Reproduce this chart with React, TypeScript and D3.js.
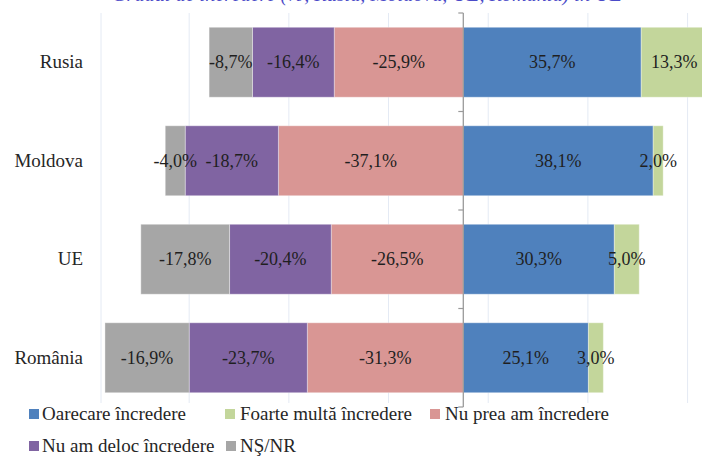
import React from "react";
import * as d3 from "d3";

const categories = ["Rusia", "Moldova", "UE", "România"];
const seriesNames = [
  "Oarecare încredere",
  "Foarte multă încredere",
  "Nu prea am încredere",
  "Nu am deloc încredere",
  "NŞ/NR",
];
const oarecare = [35.7, 38.1, 30.3, 25.1];
const foarteMulta = [13.3, 2.0, 5.0, 3.0];
const nuPrea = [-25.9, -37.1, -26.5, -31.3];
const nuDeloc = [-16.4, -18.7, -20.4, -23.7];
const nsnr = [-8.7, -4.0, -17.8, -16.9];
const gridValues = [-55, -35, -15, 5, 25, 45];
const titleText = "Gradul de încredere (%, Rusia, Moldova, UE, România) în UE";

const colors: Record<string, string> = {
  "Oarecare încredere": "#4f81bd",
  "Foarte multă încredere": "#c3d69b",
  "Nu prea am încredere": "#d99694",
  "Nu am deloc încredere": "#8064a2",
  "NŞ/NR": "#a6a6a6",
};

const W = 702;
const H = 459;
const FONT = "Liberation Serif, DejaVu Serif, serif";

export default function App() {
  const x = d3.scaleLinear().domain([-75, 50]).range([89.5, 712.5]);
  const y = d3
    .scaleBand<string>()
    .domain(categories)
    .range([13, 407])
    .paddingInner(0.29)
    .paddingOuter(0.145);

  type Seg = { cat: string; name: string; x0: number; x1: number; v: number };
  const segs: Seg[] = [];
  categories.forEach((cat, i) => {
    let p = 0;
    [
      ["Oarecare încredere", oarecare[i]],
      ["Foarte multă încredere", foarteMulta[i]],
    ].forEach(([n, v]) => {
      segs.push({ cat, name: n as string, x0: p, x1: p + (v as number), v: v as number });
      p += v as number;
    });
    let q = 0;
    [
      ["Nu prea am încredere", nuPrea[i]],
      ["Nu am deloc încredere", nuDeloc[i]],
      ["NŞ/NR", nsnr[i]],
    ].forEach(([n, v]) => {
      segs.push({ cat, name: n as string, x0: q + (v as number), x1: q, v: v as number });
      q += v as number;
    });
  });

  const fmt = (v: number) => v.toFixed(1).replace(".", ",") + "%";
  const step = y.step();
  const bandTop = 13;
  const tickYs = d3.range(categories.length + 1).map((k) => bandTop + k * step);

  const legendRows = [
    { name: seriesNames[0], sx: 29, tx: 42, y: 420 },
    { name: seriesNames[1], sx: 225, tx: 240, y: 420 },
    { name: seriesNames[2], sx: 430, tx: 445, y: 420 },
    { name: seriesNames[3], sx: 29, tx: 42, y: 452 },
    { name: seriesNames[4], sx: 226, tx: 240, y: 452 },
  ];

  return (
    <svg
      width={W}
      height={H}
      style={{ position: "fixed", left: 0, top: 0, background: "#fff", fontFamily: FONT }}
    >
      <rect width={W} height={H} fill="#fff" />
      <text
        x={367}
        y={1}
        textAnchor="middle"
        fontStyle="italic"
        fontSize={22}
        fill="#4b4bc8"
        textLength={510}
        lengthAdjust="spacingAndGlyphs"
        style={{ fontFamily: FONT }}
      >
        {titleText}
      </text>
      <line x1={101} x2={101} y1={13} y2={403} stroke="#e4eaf4" strokeWidth={1} />
      {gridValues.map((g) => (
        <line key={g} x1={x(g)} x2={x(g)} y1={13} y2={403} stroke="#e4eaf4" strokeWidth={1} />
      ))}
      {segs.map((s, i) => (
        <rect
          key={i}
          x={x(s.x0)}
          y={y(s.cat)!}
          width={x(s.x1) - x(s.x0)}
          height={y.bandwidth()}
          fill={colors[s.name]}
          stroke="#ffffff"
          strokeOpacity={0.35}
          strokeWidth={1}
        />
      ))}
      <line x1={x(0)} x2={x(0)} y1={tickYs[0]} y2={tickYs[tickYs.length - 1]} stroke="#9a9a9a" strokeWidth={1.3} />
      {tickYs.map((t, i) => (
        <line key={i} x1={x(0) - 5} x2={x(0)} y1={t} y2={t} stroke="#9a9a9a" strokeWidth={1.2} />
      ))}
      {segs.map((s, i) => (
        <text
          key={"l" + i}
          x={(x(s.x0) + x(s.x1)) / 2}
          y={y(s.cat)! + y.bandwidth() / 2 + 6}
          textAnchor="middle"
          fontSize={18}
          fill="#1f1f1f"
          style={{ fontFamily: FONT }}
        >
          {fmt(s.v)}
        </text>
      ))}
      {categories.map((c) => (
        <text
          key={c}
          x={83}
          y={y(c)! + y.bandwidth() / 2 + 6}
          textAnchor="end"
          fontSize={19}
          fill="#262626"
          style={{ fontFamily: FONT }}
        >
          {c}
        </text>
      ))}
      {legendRows.map((l) => (
        <g key={l.name}>
          <rect x={l.sx} y={l.y - 11} width={10} height={10} fill={colors[l.name]} />
          <text x={l.tx} y={l.y} fontSize={19} fill="#262626" style={{ fontFamily: FONT }}>
            {l.name}
          </text>
        </g>
      ))}
    </svg>
  );
}
